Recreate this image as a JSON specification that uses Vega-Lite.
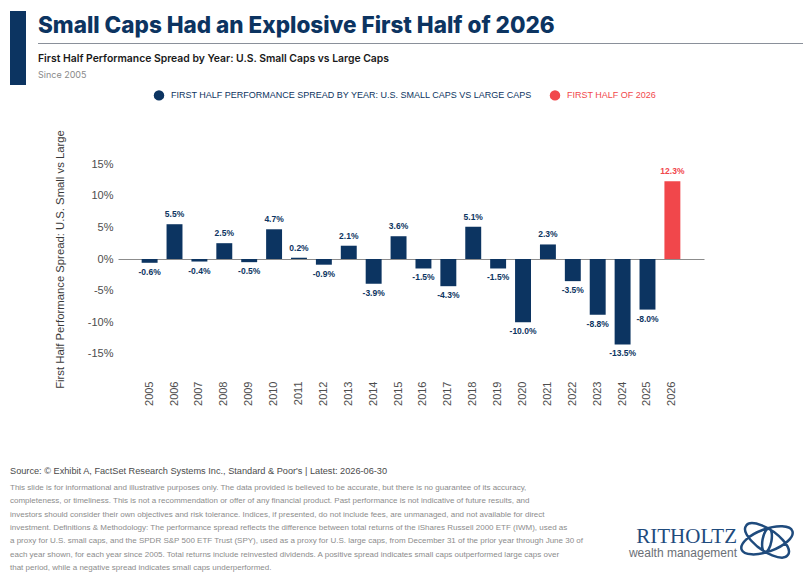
{
  "$schema": "https://vega.github.io/schema/vega-lite/v6.json",
  "background": "#ffffff",
  "padding": {"left": 10, "top": 5, "right": 0, "bottom": 0},
  "config": {"view": {"stroke": null}, "font": "Liberation Sans", "axis": {"labelOverlap": false}},
  "spacing": 60,
  "resolve": {"legend": {"color": "independent"}},
  "vconcat": [
    {
      "spacing": -2,
      "resolve": {"legend": {"color": "independent"}},
      "vconcat": [
        {
          "spacing": 12,
          "hconcat": [
            {
              "width": 16,
              "height": 74,
              "view": {"fill": "#0c3461", "stroke": null},
              "data": {"values": [{}]},
              "mark": {"type": "text"},
              "encoding": {"text": {"value": ""}}
            },
            {
              "spacing": -2,
              "vconcat": [
                {
                  "width": 765,
                  "height": 1,
                  "data": {"values": [{}]},
                  "mark": {"type": "text"},
                  "encoding": {"text": {"value": ""}}
                },
                {
                  "spacing": 5,
                  "vconcat": [
                    {
                      "width": 765,
                      "height": 1,
                      "view": {"fill": "#8a909a", "stroke": null},
                      "title": {
                        "text": "Small Caps Had an Explosive First Half of 2026",
                        "anchor": "start",
                        "font": "Inter",
                        "fontSize": 22.5,
                        "fontWeight": 800,
                        "color": "#0c3461",
                        "offset": 0
                      },
                      "data": {"values": [{}]},
                      "mark": {"type": "text"},
                      "encoding": {"text": {"value": ""}}
                    },
                    {
                      "width": 765,
                      "height": 1,
                      "title": {
                        "text": "First Half Performance Spread by Year: U.S. Small Caps vs Large Caps",
                        "subtitle": "Since 2005",
                        "anchor": "start",
                        "font": "Inter",
                        "fontSize": 10.4,
                        "fontWeight": 600,
                        "color": "#1a1a1a",
                        "subtitleFont": "Inter",
                        "subtitleFontSize": 9,
                        "subtitleColor": "#8a8a8a",
                        "subtitlePadding": 6,
                        "offset": 0
                      },
                      "data": {"values": [{}]},
                      "mark": {"type": "text"},
                      "encoding": {"text": {"value": ""}}
                    }
                  ]
                }
              ]
            }
          ]
        },
        {
          "spacing": 43,
          "resolve": {"legend": {"color": "independent"}},
          "hconcat": [
            {
              "width": 1,
              "height": 1,
              "data": {"values": [{}]},
              "mark": {"type": "text"},
              "encoding": {"text": {"value": ""}}
            },
            {
              "width": 586,
              "height": 234,
              "data": {
                "values": [
                  {"year": 2005, "spread": -0.6, "series": "FIRST HALF PERFORMANCE SPREAD BY YEAR: U.S. SMALL CAPS VS LARGE CAPS"},
                  {"year": 2006, "spread": 5.5, "series": "FIRST HALF PERFORMANCE SPREAD BY YEAR: U.S. SMALL CAPS VS LARGE CAPS"},
                  {"year": 2007, "spread": -0.4, "series": "FIRST HALF PERFORMANCE SPREAD BY YEAR: U.S. SMALL CAPS VS LARGE CAPS"},
                  {"year": 2008, "spread": 2.5, "series": "FIRST HALF PERFORMANCE SPREAD BY YEAR: U.S. SMALL CAPS VS LARGE CAPS"},
                  {"year": 2009, "spread": -0.5, "series": "FIRST HALF PERFORMANCE SPREAD BY YEAR: U.S. SMALL CAPS VS LARGE CAPS"},
                  {"year": 2010, "spread": 4.7, "series": "FIRST HALF PERFORMANCE SPREAD BY YEAR: U.S. SMALL CAPS VS LARGE CAPS"},
                  {"year": 2011, "spread": 0.2, "series": "FIRST HALF PERFORMANCE SPREAD BY YEAR: U.S. SMALL CAPS VS LARGE CAPS"},
                  {"year": 2012, "spread": -0.9, "series": "FIRST HALF PERFORMANCE SPREAD BY YEAR: U.S. SMALL CAPS VS LARGE CAPS"},
                  {"year": 2013, "spread": 2.1, "series": "FIRST HALF PERFORMANCE SPREAD BY YEAR: U.S. SMALL CAPS VS LARGE CAPS"},
                  {"year": 2014, "spread": -3.9, "series": "FIRST HALF PERFORMANCE SPREAD BY YEAR: U.S. SMALL CAPS VS LARGE CAPS"},
                  {"year": 2015, "spread": 3.6, "series": "FIRST HALF PERFORMANCE SPREAD BY YEAR: U.S. SMALL CAPS VS LARGE CAPS"},
                  {"year": 2016, "spread": -1.5, "series": "FIRST HALF PERFORMANCE SPREAD BY YEAR: U.S. SMALL CAPS VS LARGE CAPS"},
                  {"year": 2017, "spread": -4.3, "series": "FIRST HALF PERFORMANCE SPREAD BY YEAR: U.S. SMALL CAPS VS LARGE CAPS"},
                  {"year": 2018, "spread": 5.1, "series": "FIRST HALF PERFORMANCE SPREAD BY YEAR: U.S. SMALL CAPS VS LARGE CAPS"},
                  {"year": 2019, "spread": -1.5, "series": "FIRST HALF PERFORMANCE SPREAD BY YEAR: U.S. SMALL CAPS VS LARGE CAPS"},
                  {"year": 2020, "spread": -10.0, "series": "FIRST HALF PERFORMANCE SPREAD BY YEAR: U.S. SMALL CAPS VS LARGE CAPS"},
                  {"year": 2021, "spread": 2.3, "series": "FIRST HALF PERFORMANCE SPREAD BY YEAR: U.S. SMALL CAPS VS LARGE CAPS"},
                  {"year": 2022, "spread": -3.5, "series": "FIRST HALF PERFORMANCE SPREAD BY YEAR: U.S. SMALL CAPS VS LARGE CAPS"},
                  {"year": 2023, "spread": -8.8, "series": "FIRST HALF PERFORMANCE SPREAD BY YEAR: U.S. SMALL CAPS VS LARGE CAPS"},
                  {"year": 2024, "spread": -13.5, "series": "FIRST HALF PERFORMANCE SPREAD BY YEAR: U.S. SMALL CAPS VS LARGE CAPS"},
                  {"year": 2025, "spread": -8.0, "series": "FIRST HALF PERFORMANCE SPREAD BY YEAR: U.S. SMALL CAPS VS LARGE CAPS"},
                  {"year": 2026, "spread": 12.3, "series": "FIRST HALF OF 2026"}
                ]
              },
              "encoding": {
                "x": {
                  "field": "year",
                  "type": "ordinal",
                  "title": null,
                  "scale": {"paddingInner": 0.36, "paddingOuter": 0.95},
                  "axis": {
                    "labelAngle": -90,
                    "labelFontSize": 11,
                    "labelColor": "#4d4d4d",
                    "ticks": false,
                    "domain": false,
                    "labelPadding": 5
                  }
                },
                "y": {
                  "field": "spread",
                  "type": "quantitative",
                  "scale": {"domain": [-18.5, 18.5], "nice": false},
                  "axis": {
                    "values": [-15, -10, -5, 0, 5, 10, 15],
                    "labelExpr": "datum.value + '%'",
                    "labelOverlap": false,
                    "grid": true,
                    "gridColor": "#8c8c8c",
                    "gridWidth": 1,
                    "gridOpacity": {"condition": {"test": "datum.value === 0", "value": 1}, "value": 0},
                    "domain": false,
                    "ticks": false,
                    "labelPadding": 5,
                    "labelFontSize": 11,
                    "labelColor": "#4d4d4d",
                    "title": "First Half Performance Spread: U.S. Small vs Large",
                    "titleFontSize": 11.3,
                    "titleFontWeight": "normal",
                    "titleColor": "#3a3a3a",
                    "titlePadding": 22
                  }
                }
              },
              "layer": [
                {
                  "mark": {"type": "bar"},
                  "encoding": {
                    "color": {
                      "field": "series",
                      "type": "nominal",
                      "scale": {
                        "domain": ["FIRST HALF PERFORMANCE SPREAD BY YEAR: U.S. SMALL CAPS VS LARGE CAPS", "FIRST HALF OF 2026"],
                        "range": ["#0c3461", "#f1474b"]
                      },
                      "legend": {
                        "title": null,
                        "orient": "none",
                        "legendX": 35,
                        "legendY": -53,
                        "direction": "horizontal",
                        "symbolType": "circle",
                        "symbolSize": 110,
                        "labelFontSize": 9,
                        "labelLimit": 500,
                        "labelOffset": 6,
                        "columnPadding": 16,
                        "labelColor": {"expr": "datum.label == 'FIRST HALF OF 2026' ? '#f1474b' : '#0c3461'"}
                      }
                    }
                  }
                },
                {
                  "transform": [
                    {"filter": "datum.spread >= 0"},
                    {"calculate": "replace(format(datum.spread, '.1f'), '\u2212', '-') + '%'", "as": "label"}
                  ],
                  "mark": {"type": "text", "baseline": "bottom", "dy": -5, "fontSize": 8.5, "fontWeight": "bold"},
                  "encoding": {
                    "text": {"field": "label"},
                    "color": {"condition": {"test": "datum.year == 2026", "value": "#f1474b"}, "value": "#0c3461"}
                  }
                },
                {
                  "transform": [
                    {"filter": "datum.spread < 0"},
                    {"calculate": "replace(format(datum.spread, '.1f'), '\u2212', '-') + '%'", "as": "label"}
                  ],
                  "mark": {"type": "text", "baseline": "top", "dy": 5, "fontSize": 8.5, "fontWeight": "bold"},
                  "encoding": {
                    "text": {"field": "label"},
                    "color": {"value": "#0c3461"}
                  }
                }
              ]
            }
          ]
        }
      ]
    },
    {
      "width": 727,
      "height": 80,
      "title": {
        "text": "Source: © Exhibit A, FactSet Research Systems Inc., Standard & Poor's | Latest: 2026-06-30",
        "anchor": "start",
        "fontSize": 9.2,
        "fontWeight": 500,
        "color": "#4a4a4a",
        "offset": 8
      },
      "data": {
        "values": [
          {"line": 1, "side": "left", "kind": "note", "text": "This slide is for informational and illustrative purposes only. The data provided is believed to be accurate, but there is no guarantee of its accuracy,"},
          {"line": 2, "side": "left", "kind": "note", "text": "completeness, or timeliness. This is not a recommendation or offer of any financial product. Past performance is not indicative of future results, and"},
          {"line": 3, "side": "left", "kind": "note", "text": "investors should consider their own objectives and risk tolerance. Indices, if presented, do not include fees, are unmanaged, and not available for direct"},
          {"line": 4, "side": "left", "kind": "note", "text": "investment. Definitions & Methodology: The performance spread reflects the difference between total returns of the iShares Russell 2000 ETF (IWM), used as"},
          {"line": 5, "side": "left", "kind": "note", "text": "a proxy for U.S. small caps, and the SPDR S&P 500 ETF Trust (SPY), used as a proxy for U.S. large caps, from December 31 of the prior year through June 30 of"},
          {"line": 6, "side": "left", "kind": "note", "text": "each year shown, for each year since 2005. Total returns include reinvested dividends. A positive spread indicates small caps outperformed large caps over"},
          {"line": 7, "side": "left", "kind": "note", "text": "that period, while a negative spread indicates small caps underperformed."},
          {"line": 5, "side": "right", "kind": "brand", "text": "RITHOLTZ"},
          {"line": 6, "side": "right", "kind": "tagline", "text": "wealth management"},
          {"line": 5, "side": "right", "kind": "emblem", "text": ""}
        ]
      },
      "encoding": {
        "x": {"field": "side", "type": "nominal", "scale": {"type": "point", "domain": ["left", "right"], "padding": 0}, "axis": null},
        "y": {"field": "line", "type": "ordinal", "scale": {"type": "point", "padding": 0}, "axis": null}
      },
      "layer": [
        {
          "transform": [{"filter": "datum.kind == 'note'"}],
          "mark": {"type": "text", "align": "left", "baseline": "alphabetic", "fontSize": 8, "color": "#8c8c8c"},
          "encoding": {"text": {"field": "text"}}
        },
        {
          "transform": [{"filter": "datum.kind == 'brand'"}],
          "mark": {"type": "text", "align": "right", "baseline": "alphabetic", "font": "Liberation Serif", "fontSize": 21, "color": "#1f4b7d"},
          "encoding": {"text": {"field": "text"}}
        },
        {
          "transform": [{"filter": "datum.kind == 'tagline'"}],
          "mark": {"type": "text", "align": "right", "baseline": "alphabetic", "fontSize": 12, "color": "#6b6f76"},
          "encoding": {"text": {"field": "text"}}
        },
        {
          "transform": [{"filter": "datum.kind == 'emblem'"}],
          "mark": {
            "type": "point",
            "shape": "M3.692,-0.816 A1.8,0.75,-20,1,0,0.308,0.416 A1.8,0.75,-20,1,0,3.692,-0.816 Z M3.392,0.775 A1.7,0.7,35,1,0,0.608,-1.175 A1.7,0.7,35,1,0,3.392,0.775 Z M2.139,-0.988 A0.8,0.3,-80,1,0,1.861,0.588 A0.8,0.3,-80,1,0,2.139,-0.988 Z",
            "size": 900,
            "filled": false,
            "stroke": "#1f4b7d",
            "strokeWidth": 2.5,
            "opacity": 1
          }
        }
      ]
    }
  ]
}
